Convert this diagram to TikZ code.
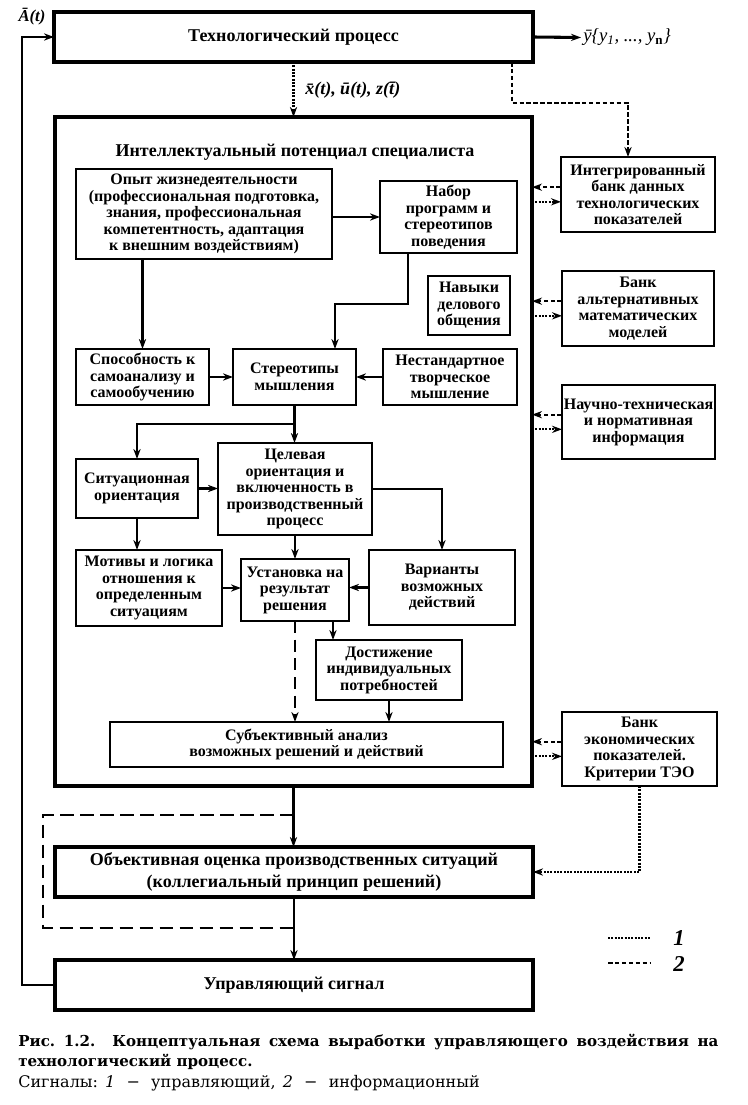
\documentclass[tikz,border=0pt]{standalone}
\usepackage{fontspec}
\setmainfont{Liberation Serif}
\newfontfamily\capfont{DejaVu Serif}
\usetikzlibrary{arrows.meta}
\newcommand\boxfont{\bfseries\fontsize{12}{12.4}\selectfont}
\newcommand\titlefont{\bfseries\fontsize{13.5}{16.5}\selectfont}
\newcommand\mybox[7][]{\node[box,#1,minimum width={(#5-#3)*0.75pt},minimum height={(#6-#4)*0.75pt}] (#2) at ({(#3+#5)/2},{(#4+#6)/2}) {#7};}
\begin{document}
\begin{tikzpicture}[x=0.75pt,y=-0.75pt,
  box/.style={draw,line width=1.8pt,inner sep=0pt,outer sep=0pt,align=center,font=\boxfont},
  heavy/.style={line width=2.4pt,font=\titlefont},
  arr/.style={-{Stealth[length=7.5pt,width=5.4pt]},line width=1.6pt},
  dotc/.style={arr,dash pattern=on 1.4pt off 1.1pt},
  dashc/.style={arr,dash pattern=on 3.4pt off 1.8pt},
  ldash/.style={line width=1.6pt,dash pattern=on 10pt off 5pt},
  lbl/.style={inner sep=0pt,font=\bfseries\itshape\fontsize{12.5}{12.5}\selectfont}]
\useasboundingbox (0,0) rectangle (747,1105);
% main boxes
\mybox[heavy]{tp}{54}{12}{533}{62}{Технологический процесс}
\mybox[line width=2.9pt]{ip}{55}{117}{532}{786}{}
\node[font=\titlefont,inner sep=0pt] (iptitle) at (295,152) {Интеллектуальный потенциал специалиста};
\mybox{opyt}{76}{169}{332}{259}{Опыт жизнедеятельности\\(профессиональная подготовка,\\знания, профессиональная\\компетентность, адаптация\\к внешним воздействиям)}
\mybox{nabor}{380}{181}{517}{253}{Набор\\программ и\\стереотипов\\поведения}
\mybox{navyk}{428}{276}{510}{335}{Навыки\\делового\\общения}
\mybox{sposob}{76}{349}{209}{405}{Способность к\\самоанализу и\\самообучению}
\mybox{stereo}{233}{349}{356}{405}{Стереотипы\\мышления}
\mybox{nestand}{383}{349}{517}{405}{Нестандартное\\творческое\\мышление}
\mybox{situ}{76}{459}{198}{518}{Ситуационная\\ориентация}
\mybox{celev}{218}{443}{372}{535}{Целевая\\ориентация и\\включенность в\\производственный\\процесс}
\mybox{motiv}{76}{550}{222}{626}{Мотивы и логика\\отношения к\\определенным\\ситуациям}
\mybox{ustan}{241}{559}{349}{621}{Установка на\\результат\\решения}
\mybox{var}{369}{550}{515}{625}{Варианты\\возможных\\действий}
\mybox{dost}{316}{640}{462}{700}{Достижение\\индивидуальных\\потребностей}
\mybox{subj}{110}{722}{503}{767}{Субъективный анализ\\возможных решений и действий}
% right boxes
\mybox{int}{561}{157}{715}{232}{Интегрированный\\банк данных\\технологических\\показателей}
\mybox{bank}{562}{271}{714}{346}{Банк\\альтернативных\\математических\\моделей}
\mybox{nauch}{562}{385}{715}{459}{Научно-техническая\\и нормативная\\информация}
\mybox{econ}{562}{712}{717}{786}{Банк\\экономических\\показателей.\\Критерии ТЭО}
% bottom boxes
\mybox[heavy]{obj}{55}{847}{533}{897}{Объективная оценка производственных ситуаций\\(коллегиальный принцип решений)}
\mybox[heavy]{upr}{55}{960}{533}{1010}{Управляющий сигнал}
% coordinates
\coordinate (fl) at (22,500);
\coordinate (yout) at (581,37.5);
\coordinate (d1) at (512,103);
\coordinate (d2) at (628,103);
\coordinate (b1) at (408,304);
\coordinate (b2) at (335,304);
\coordinate (b3) at (295,424);
\coordinate (b4) at (333,640);
\coordinate (lp1) at (43,815);
\coordinate (lp2) at (43,928);
\coordinate (l1a) at (608,938);
\coordinate (l1b) at (651,938);
\coordinate (l2a) at (608,963);
\coordinate (l2b) at (651,963);
% labels
\node[lbl] (alab) at (32,17) {Ā(t)};
\node[lbl,font=\itshape\fontsize{14}{14}\selectfont,anchor=west] (ylab) at (583,37.5) {\=y\{y\textsubscript{1}, ..., y\textsubscript{\textup{\bfseries n}}\}};
\node[lbl,font=\bfseries\itshape\fontsize{13.5}{13.5}\selectfont,anchor=west] (xlab) at (305,90) {\=x(t), \=u(t), z(\=t)};
\node[inner sep=0pt,font=\bfseries\itshape\fontsize{17}{17}\selectfont] (n1) at (679,938) {1};
\node[inner sep=0pt,font=\bfseries\itshape\fontsize{17}{17}\selectfont] (n2) at (679,964) {2};
% top connectors
\draw[arr] (upr.west) -- (upr.west -| fl) -- (fl |- tp.west) -- (tp.west);
\draw[arr,line width=2.3pt] (tp.east) -- (yout);
\draw[dotc] (tp.south) -- (tp.south |- ip.north);
\draw[dashc] (tp.south -| d1) -- (d1) -- (d2) -- (int.north -| d2);
% right side connectors
\foreach \b in {int,bank,nauch,econ}{
  \draw[dashc] ([yshift=5.5pt]\b.west) -- ([yshift=5.5pt]\b.west -| ip.east);
  \draw[dotc] ([yshift=-5.5pt]\b.west -| ip.east) -- ([yshift=-5.5pt]\b.west);
}
% inner connectors
\draw[arr] (opyt.east |- nabor.west) -- (nabor.west);
\draw[arr] (sposob.north |- opyt.south) -- (sposob.north);
\draw[arr] (nabor.south -| b1) -- (b1) -- (b2) -- (stereo.north -| b2);
\draw[arr] (sposob.east) -- (sposob.east -| stereo.west);
\draw[arr] (nestand.west) -- (nestand.west -| stereo.east);
\draw[arr] (stereo.south) -- (stereo.south |- celev.north);
\draw[arr] (b3 -| stereo.south) -| (situ.north);
\draw[arr] (situ.east) -- (situ.east -| celev.west);
\draw[arr] (celev.east) -| (var.north);
\draw[arr] (situ.south) -- (situ.south |- motiv.north);
\draw[arr] (celev.south) -- (celev.south |- ustan.north);
\draw[arr] (motiv.east) -- (motiv.east -| ustan.west);
\draw[arr] (var.west) -- (var.west -| ustan.east);
\draw[arr,dash pattern=on 9pt off 5pt] (ustan.south) -- (ustan.south |- subj.north);
\draw[arr] (ustan.south -| b4) -- (dost.north -| b4);
\draw[arr] (dost.south) -- (dost.south |- subj.north);
% bottom connectors
\draw[arr] (ip.south) -- (ip.south |- obj.north);
\draw[arr] (obj.south) -- (obj.south |- upr.north);
\draw[ldash] (ip.south |- lp1) -- (lp1) -- (lp2) -- (ip.south |- lp2);
\draw[dotc] (econ.south) |- (obj.east);
% legend
\draw[line width=1.5pt,dash pattern=on 1.4pt off 1.1pt] (l1a) -- (l1b);
\draw[line width=1.5pt,dash pattern=on 3.4pt off 1.8pt] (l2a) -- (l2b);
% caption
\node[anchor=north west,inner sep=0pt,text width=525pt,align=justify,font=\capfont\bfseries\fontsize{11.3}{15}\selectfont] (cap1) at (18,1034) {Рис.~1.2. Концептуальная схема выработки управляющего воздействия на\linebreak технологический процесс.};
\node[anchor=west,inner sep=0pt,font=\capfont\fontsize{12}{15}\selectfont] (cap2) at (18,1083) {Сигналы:\hspace{0.45em}\textit{1}\hspace{0.7em}−\hspace{0.7em}управляющий,\hspace{0.45em}\textit{2}\hspace{0.7em}−\hspace{0.7em}информационный};
\end{tikzpicture}
\end{document}
